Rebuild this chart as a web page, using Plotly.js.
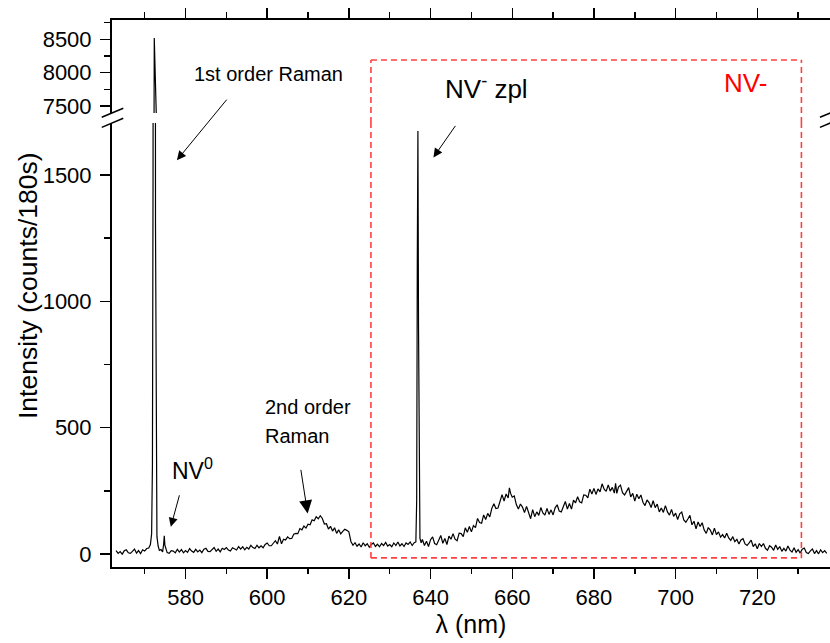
<!DOCTYPE html>
<html>
<head>
<meta charset="utf-8">
<script src="https://cdn.plot.ly/plotly-3.0.1.min.js"></script>
<style>html,body{margin:0;padding:0;background:#fff;}#chart{width:830px;height:643px;}</style>
</head>
<body>
<div id="chart"></div>
<script>
// Wavelength (nm)
const wavelength = [
563.0,563.5,564.0,564.5,565.0,565.5,566.0,566.5,567.0,567.5,568.0,568.5,569.0,569.5,570.0,570.5,571.0,571.4,571.7,571.9,
572.05,572.2,572.35,572.5,572.65,572.8,573.0,573.3,573.6,574.0,574.4,574.65,574.8,574.95,575.2,575.5,576.0,576.5,577.0,577.5,
578.0,578.5,579.0,579.5,580.0,580.5,581.0,581.5,582.0,582.5,583.0,583.5,584.0,584.5,585.0,585.5,586.0,586.5,587.0,587.5,
588.0,588.5,589.0,589.5,590.0,590.5,591.0,591.5,592.0,592.5,593.0,593.5,594.0,594.5,595.0,595.5,596.0,596.5,597.0,597.5,
598.0,598.5,599.0,599.5,600.0,600.5,601.0,601.5,602.0,602.5,603.0,603.5,604.0,604.5,605.0,605.5,606.0,606.5,607.0,607.5,
608.0,608.5,609.0,609.5,610.0,610.5,611.0,611.5,612.0,612.5,613.0,613.5,614.0,614.5,615.0,615.5,616.0,616.5,617.0,617.5,
618.0,618.5,619.0,619.5,620.0,620.5,621.0,621.5,622.0,622.5,623.0,623.5,624.0,624.5,625.0,625.5,626.0,626.5,627.0,627.5,
628.0,628.5,629.0,629.5,630.0,630.5,631.0,631.5,632.0,632.5,633.0,633.5,634.0,634.5,635.0,635.5,636.0,636.4,636.6,636.75,
636.9,637.05,637.2,637.4,637.7,638.0,638.5,639.0,639.5,640.0,640.5,641.0,641.5,642.0,642.5,643.0,643.5,644.0,644.5,645.0,
645.5,646.0,646.5,647.0,647.5,648.0,648.5,649.0,649.5,650.0,650.5,651.0,651.5,652.0,652.5,653.0,653.5,654.0,654.5,655.0,
655.5,656.0,656.5,657.0,657.5,658.0,658.5,659.0,659.3,659.6,660.0,660.5,661.0,661.5,662.0,662.5,663.0,663.5,664.0,664.5,
665.0,665.5,666.0,666.5,667.0,667.5,668.0,668.5,669.0,669.5,670.0,670.5,671.0,671.5,672.0,672.5,673.0,673.5,674.0,674.5,
675.0,675.5,676.0,676.5,677.0,677.5,678.0,678.5,679.0,679.5,680.0,680.5,681.0,681.5,682.0,682.5,683.0,683.5,684.0,684.5,
685.0,685.3,685.6,686.0,686.5,687.0,687.5,688.0,688.5,689.0,689.5,690.0,690.5,691.0,691.5,692.0,692.5,693.0,693.5,694.0,
694.5,695.0,695.5,696.0,696.5,697.0,697.5,698.0,698.5,699.0,699.5,700.0,700.5,701.0,701.5,702.0,702.5,703.0,703.5,704.0,
704.5,705.0,705.5,706.0,706.5,707.0,707.5,708.0,708.5,709.0,709.5,710.0,710.5,711.0,711.5,712.0,712.5,713.0,713.5,714.0,
714.5,715.0,715.5,716.0,716.5,717.0,717.5,718.0,718.5,719.0,719.5,720.0,720.5,721.0,721.5,722.0,722.5,723.0,723.5,724.0,
724.5,725.0,725.5,726.0,726.5,727.0,727.5,728.0,728.5,729.0,729.5,730.0,730.5,731.0,731.5,732.0,732.5,733.0,733.5,734.0,
734.5,735.0,735.5,736.0,736.5,737.0
];
// Intensity (counts/180s)
const intensity = [
14,3,10,0,13,17,5,3,11,20,4,14,2,17,12,22,24,38,80,350,
1500,5600,8520,5800,1300,260,70,32,15,18,9,40,72,35,16,6,3,14,12,5,
19,8,18,5,14,7,22,12,7,19,9,16,6,19,23,11,10,17,26,11,
20,9,23,18,26,16,12,25,22,16,30,20,29,17,27,20,35,26,22,35,
25,33,25,38,44,33,33,42,53,40,70,41,59,56,68,61,62,79,82,81,
101,96,111,103,118,116,136,132,148,140,152,141,119,120,99,110,91,104,82,96,
80,90,98,94,88,50,35,45,31,40,28,45,33,41,27,38,44,30,39,29,
42,34,46,32,38,29,44,34,48,32,41,30,44,38,48,34,45,48,210,1150,
1673,900,170,62,45,58,34,51,30,57,68,42,37,55,74,43,62,38,71,59,
81,59,53,83,81,69,104,86,109,88,113,105,141,125,122,155,137,161,147,181,
199,180,182,208,235,210,238,222,262,240,225,230,196,178,198,186,164,189,162,140,
176,148,167,153,184,163,154,181,157,175,155,183,195,170,167,187,208,178,200,178,
213,203,227,207,203,234,233,222,257,238,260,236,258,246,278,257,248,274,249,264,
241,280,240,265,273,243,234,248,263,226,240,210,237,219,234,205,192,214,204,184,
211,184,198,167,182,165,192,167,154,177,149,162,137,159,166,135,126,139,153,116,
130,100,127,109,124,95,82,105,95,76,103,77,88,67,77,64,82,64,54,69,
49,58,40,56,61,40,34,44,55,30,41,21,42,30,42,23,15,33,27,15,
36,19,30,11,23,12,32,16,8,25,7,18,4,19,24,6,2,13,20,2,
14,1,17,6,14,3
];
// Axis ticks
const xMajorTicks = [580, 600, 620, 640, 660, 680, 700, 720];
const yLowTicks = [0, 500, 1000, 1500];
const yHighTicks = [7500, 8000, 8500];

const FONT = 'Liberation Sans, Arial, sans-serif';
const xRange = [562, 737.8];
const yLowRange = [-51, 1705];
const yHighRange = [7395, 8790];
const lowDomain = [0, 0.8117];
const highDomain = [0.8300, 1];

const lineStyle = {color: '#000', width: 1.2};
const traces = [
  {x: wavelength, y: intensity, type: 'scatter', mode: 'lines', line: lineStyle, xaxis: 'x', yaxis: 'y', hoverinfo: 'skip'},
  {x: wavelength, y: intensity, type: 'scatter', mode: 'lines', line: lineStyle, xaxis: 'x2', yaxis: 'y2', hoverinfo: 'skip'}
];

const axisCommon = {
  showline: true, linecolor: '#000', linewidth: 2, showgrid: false, zeroline: false,
  ticks: 'outside', ticklen: 10, tickwidth: 1.5, tickcolor: '#000',
  tickfont: {family: FONT, size: 22, color: '#000'}
};

// NV- box (data units)
const box = {x0: 625.4, x1: 730.8, yLow: -15, yHigh: 8190};
const red = '#ff4040';
const dash = {color: red, width: 1.6, dash: '6px,4px'};

const shapes = [
  {type: 'line', xref: 'x', yref: 'y', x0: box.x0, x1: box.x1, y0: box.yLow, y1: box.yLow, line: dash},
  {type: 'line', xref: 'x', yref: 'y', x0: box.x0, x1: box.x0, y0: box.yLow, y1: yLowRange[1], line: dash},
  {type: 'line', xref: 'x', yref: 'y', x0: box.x1, x1: box.x1, y0: box.yLow, y1: yLowRange[1], line: dash},
  {type: 'line', xref: 'x', yref: 'paper', x0: box.x0, x1: box.x0, y0: lowDomain[1], y1: highDomain[0], line: dash},
  {type: 'line', xref: 'x', yref: 'paper', x0: box.x1, x1: box.x1, y0: lowDomain[1], y1: highDomain[0], line: dash},
  {type: 'line', xref: 'x2', yref: 'y2', x0: box.x0, x1: box.x0, y0: yHighRange[0], y1: box.yHigh, line: dash},
  {type: 'line', xref: 'x2', yref: 'y2', x0: box.x1, x1: box.x1, y0: yHighRange[0], y1: box.yHigh, line: dash},
  {type: 'line', xref: 'x2', yref: 'y2', x0: box.x0, x1: box.x1, y0: box.yHigh, y1: box.yHigh, line: dash},
  // axis break marks
  {type: 'line', xref: 'paper', yref: 'paper', x0: -0.0143, x1: 0.0157, y0: 0.8221, y1: 0.8386, line: {color: '#000', width: 1.5}},
  {type: 'line', xref: 'paper', yref: 'paper', x0: -0.0143, x1: 0.0157, y0: 0.8038, y1: 0.8203, line: {color: '#000', width: 1.5}},
  {type: 'line', xref: 'paper', yref: 'paper', x0: 0.986, x1: 1.016, y0: 0.8221, y1: 0.8386, line: {color: '#000', width: 1.5}},
  {type: 'line', xref: 'paper', yref: 'paper', x0: 0.986, x1: 1.016, y0: 0.8038, y1: 0.8203, line: {color: '#000', width: 1.5}}
];

const txt = (size, color) => ({family: FONT, size: size, color: color || '#000'});
const arrow = (x, y, ax, ay, size) => ({
  x: x, y: y, xref: 'x', yref: 'y', ax: ax, ay: ay, text: '', showarrow: true,
  arrowhead: 2, arrowsize: size || 1.6, arrowwidth: 1, arrowcolor: '#000', standoff: 0
});

const annotations = [
  {x: -0.117, y: 0.5155, xref: 'paper', yref: 'paper', text: 'Intensity (counts/180s)', textangle: -90, showarrow: false, font: txt(26.5), xanchor: 'center', yanchor: 'middle'},
  {x: 600.2, y: 7980, xref: 'x2', yref: 'y2', text: '1st order Raman', showarrow: false, font: txt(20), xanchor: 'center', yanchor: 'middle'},
  {x: 653.6, y: 7770, xref: 'x2', yref: 'y2', text: 'NV<sup>-</sup> zpl', showarrow: false, font: txt(26), xanchor: 'center', yanchor: 'middle'},
  {x: 717.2, y: 7845, xref: 'x2', yref: 'y2', text: 'NV-', showarrow: false, font: txt(26, '#ff0000'), xanchor: 'center', yanchor: 'middle'},
  {x: 581.8, y: 335, xref: 'x', yref: 'y', text: 'NV<sup>0</sup>', showarrow: false, font: txt(23), xanchor: 'center', yanchor: 'middle'},
  {x: 598.9, y: 581, xref: 'x', yref: 'y', text: '2nd order', showarrow: false, font: txt(20), xanchor: 'left', yanchor: 'middle'},
  {x: 599.0, y: 467, xref: 'x', yref: 'y', text: 'Raman', showarrow: false, font: txt(20), xanchor: 'left', yanchor: 'middle'},
  arrow(577.9, 1558, 51, -62, 1.8),
  arrow(640.7, 1569, 23, -33, 1.8),
  arrow(576.4, 108, 9, -33, 1.8),
  arrow(609.9, 161, -7, -45, 2.6)
];

const layout = {
  width: 830, height: 643,
  margin: {l: 112, r: 0, t: 20, b: 76},
  paper_bgcolor: '#fff', plot_bgcolor: '#fff',
  showlegend: false,
  font: {family: FONT, color: '#000'},
  xaxis: Object.assign({}, axisCommon, {
    domain: [0, 1], range: xRange, anchor: 'y',
    tickmode: 'array', tickvals: xMajorTicks,
    minor: {dtick: 10, tick0: 0, ticks: 'outside', ticklen: 5, tickwidth: 1.5, tickcolor: '#000', showgrid: false},
    title: {text: 'λ (nm)', font: {family: FONT, size: 25, color: '#000'}, standoff: 6}
  }),
  xaxis2: Object.assign({}, axisCommon, {
    domain: [0, 1], range: xRange, anchor: 'y2', side: 'top', matches: 'x',
    tickmode: 'array', tickvals: xMajorTicks, showticklabels: false,
    minor: {dtick: 10, tick0: 0, ticks: 'outside', ticklen: 6, tickwidth: 1.5, tickcolor: '#000', showgrid: false}
  }),
  yaxis: Object.assign({}, axisCommon, {
    domain: lowDomain, range: yLowRange, anchor: 'x',
    tickmode: 'array', tickvals: yLowTicks, ticklabelstandoff: 4,
    minor: {dtick: 250, tick0: 0, ticks: 'outside', ticklen: 6, tickwidth: 1.5, tickcolor: '#000', showgrid: false}
  }),
  yaxis2: Object.assign({}, axisCommon, {
    domain: highDomain, range: yHighRange, anchor: 'x2',
    tickmode: 'array', tickvals: yHighTicks, ticklabelstandoff: 4,
    minor: {dtick: 250, tick0: 0, ticks: 'outside', ticklen: 6, tickwidth: 1.5, tickcolor: '#000', showgrid: false}
  }),
  shapes: shapes,
  annotations: annotations
};

Plotly.newPlot('chart', traces, layout, {staticPlot: true, displayModeBar: false});
</script>
</body>
</html>
